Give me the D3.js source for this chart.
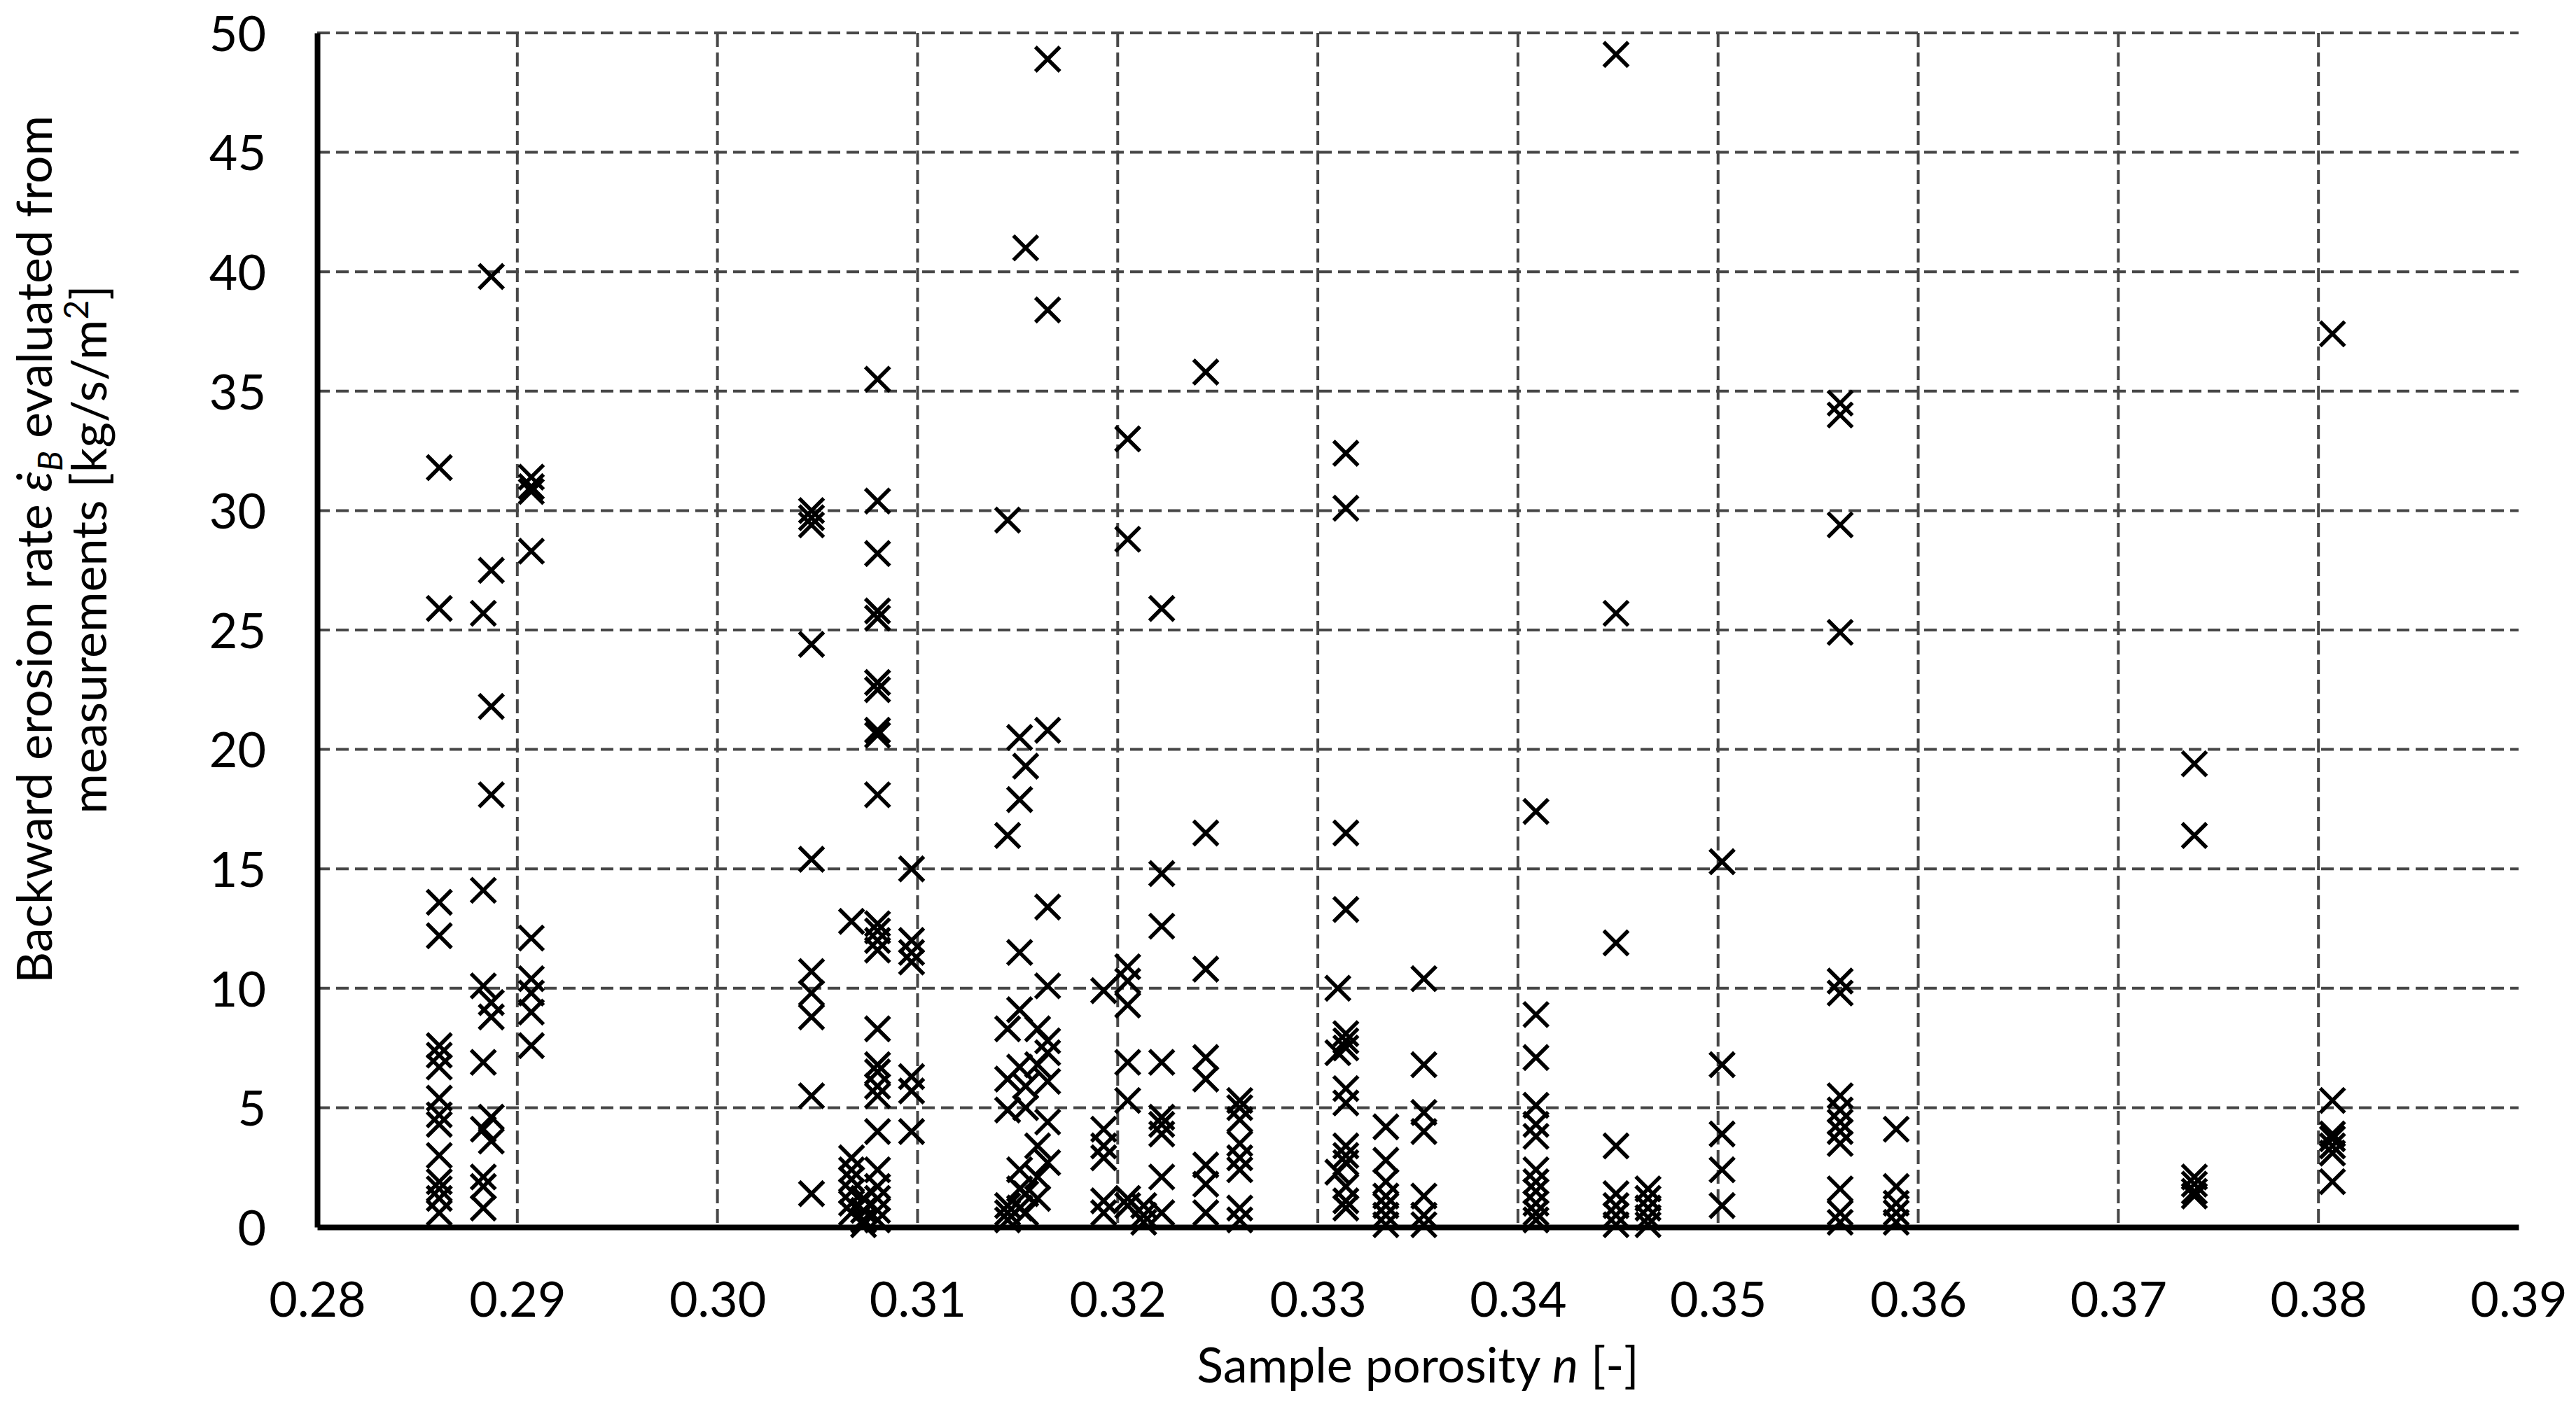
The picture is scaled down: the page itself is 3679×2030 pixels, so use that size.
<!DOCTYPE html>
<html>
<head>
<meta charset="utf-8">
<script src="https://cdn.jsdelivr.net/npm/d3@7"></script>
<style>
  body { margin: 0; background: #fff; }
  svg text { font-family: Lato, "Open Sans", sans-serif; fill: #000; }
</style>
</head>
<body>
<div class="chart"></div>
<script>
// porosity of each tested sample group and the erosion rates measured for it
var porosity = [0.2861, 0.2883, 0.2887, 0.2907, 0.3047, 0.3067, 0.3073, 0.3080, 0.3097,
  0.3145, 0.3151, 0.3154, 0.3160, 0.3165, 0.3193, 0.3205, 0.3213, 0.3222, 0.3244, 0.3261,
  0.3310, 0.3314, 0.3334, 0.3353, 0.3409, 0.3449, 0.3465, 0.3502, 0.3561, 0.3589, 0.3738, 0.3807];

var erosionRate = [
  [31.8, 25.9, 13.6, 12.2, 7.6, 7.2, 6.7, 5.4, 4.7, 4.3, 3.0, 1.9, 1.6, 1.2, 0.6],
  [25.7, 14.1, 10.1, 6.9, 4.1, 2.1, 1.7, 0.8],
  [39.8, 27.5, 21.8, 18.1, 9.4, 8.8, 4.6, 3.6],
  [31.4, 31.0, 30.8, 28.3, 12.1, 10.4, 9.8, 9.0, 7.6],
  [30.0, 29.7, 29.4, 24.4, 15.4, 10.7, 9.8, 8.8, 5.5, 1.4],
  [12.8, 2.9, 2.4, 2.0, 1.5, 1.0, 0.6],
  [1.2, 0.7, 0.3, 0.1],
  [35.5, 30.4, 28.2, 25.8, 25.5, 22.8, 22.5, 20.8, 20.6, 18.1, 12.7, 12.4, 12.0, 11.6, 8.3, 6.8, 6.5, 5.9, 5.5, 4.0, 2.4, 1.7, 1.2, 0.7, 0.3],
  [15.0, 12.0, 11.5, 11.1, 6.3, 5.7, 4.0],
  [29.6, 16.4, 8.3, 6.2, 4.9, 0.9, 0.6, 0.3],
  [20.5, 17.9, 11.5, 9.1, 6.7, 2.4, 1.6, 0.8],
  [41.0, 19.3, 5.9, 5.0, 1.4, 0.6],
  [8.3, 6.8, 3.4, 2.1, 1.2],
  [48.9, 38.4, 20.8, 13.4, 10.1, 7.8, 7.3, 6.1, 4.4, 2.7],
  [9.9, 4.1, 3.4, 2.9, 1.1, 0.6],
  [33.0, 28.8, 10.9, 10.3, 9.3, 6.9, 5.3, 1.2, 0.9],
  [0.9, 0.5, 0.2],
  [25.9, 14.8, 12.6, 6.9, 4.6, 4.3, 3.9, 2.1, 0.6],
  [35.8, 16.5, 10.8, 7.1, 6.2, 2.6, 1.8, 0.6],
  [5.3, 5.0, 4.5, 3.5, 2.9, 2.4, 0.8, 0.3],
  [10.0, 7.3, 2.3],
  [32.4, 30.1, 16.5, 13.3, 8.1, 7.8, 7.5, 5.8, 5.2, 3.4, 3.0, 2.7, 1.7, 1.1, 0.8],
  [4.2, 2.8, 1.9, 1.3, 0.9, 0.5, 0.1],
  [10.4, 6.8, 4.8, 4.0, 1.3, 0.5, 0.1],
  [17.4, 8.9, 7.1, 5.1, 4.3, 3.8, 2.4, 1.9, 1.5, 1.0, 0.6, 0.3],
  [49.1, 25.7, 11.9, 3.4, 1.4, 0.9, 0.5, 0.1],
  [1.6, 1.2, 0.8, 0.4, 0.1],
  [15.3, 6.8, 3.9, 2.4, 0.9],
  [34.5, 34.0, 29.4, 24.9, 10.3, 9.8, 5.5, 4.9, 4.4, 4.0, 3.5, 1.6, 0.6, 0.2],
  [4.1, 1.7, 1.0, 0.6, 0.2],
  [19.4, 16.4, 2.1, 1.8, 1.5, 1.3],
  [37.4, 5.3, 3.9, 3.7, 3.4, 3.1, 1.9]
];

var xTicks = [0.28, 0.29, 0.30, 0.31, 0.32, 0.33, 0.34, 0.35, 0.36, 0.37, 0.38, 0.39];
var yTicks = [0, 5, 10, 15, 20, 25, 30, 35, 40, 45, 50];

var points = [];
for (var i = 0; i < porosity.length; i++) {
  for (var j = 0; j < erosionRate[i].length; j++) {
    points.push({ n: porosity[i], rate: erosionRate[i][j] });
  }
}

var width = 3679,
  height = 2030;
var plotLeft = 453, plotRight = 3597, plotTop = 47, plotBottom = 1753;

var x = d3.scaleLinear().domain([0.28, 0.39]).range([plotLeft, plotRight]);
var y = d3.scaleLinear().domain([0, 50]).range([plotBottom, plotTop]);

var svg = d3.select(".chart")
  .append("svg")
  .attr("width", width)
  .attr("height", height);

// horizontal gridlines
svg.append("g")
  .selectAll("line")
  .data(yTicks.filter(function(d) { return d > 0; }))
  .enter()
  .append("line")
  .attr("x1", plotLeft)
  .attr("x2", plotRight)
  .attr("y1", function(d) { return y(d); })
  .attr("y2", function(d) { return y(d); })
  .attr("stroke", "#474747")
  .attr("stroke-width", 4)
  .attr("stroke-dasharray", "18,9");

// vertical gridlines
svg.append("g")
  .selectAll("line")
  .data(xTicks.filter(function(d) { return d > 0.2805 && d < 0.3895; }))
  .enter()
  .append("line")
  .attr("x1", function(d) { return x(d); })
  .attr("x2", function(d) { return x(d); })
  .attr("y1", plotTop)
  .attr("y2", plotBottom)
  .attr("stroke", "#474747")
  .attr("stroke-width", 4)
  .attr("stroke-dasharray", "20,8");

// axes
var xAxis = d3.axisBottom(x).tickValues(xTicks).tickFormat(d3.format(".2f")).tickSize(0).tickPadding(78);
var yAxis = d3.axisLeft(y).tickValues(yTicks).tickFormat(d3.format("d")).tickSize(0).tickPadding(73);

var gx = svg.append("g").attr("transform", "translate(0," + plotBottom + ")").call(xAxis);
var gy = svg.append("g").attr("transform", "translate(" + plotLeft + ",0)").call(yAxis);

[gx, gy].forEach(function(g) {
  g.select(".domain").attr("stroke", "#000").attr("stroke-width", 8);
  g.selectAll("text").style("font-size", "70px").attr("fill", "#000");
});
gy.selectAll("text").attr("dy", "0.36em");

// crosses
svg.append("g")
  .selectAll("path")
  .data(points)
  .enter()
  .append("path")
  .attr("d", function(d) {
    var cx = x(d.n), cy = y(d.rate), s = 17.5;
    return "M" + (cx - s) + "," + (cy - s) + "L" + (cx + s) + "," + (cy + s) +
      "M" + (cx - s) + "," + (cy + s) + "L" + (cx + s) + "," + (cy - s);
  })
  .attr("stroke", "#000")
  .attr("stroke-width", 5.5)
  .attr("fill", "none");

// x title
var xt = svg.append("text")
  .attr("x", (plotLeft + plotRight) / 2)
  .attr("y", 1975)
  .attr("text-anchor", "middle")
  .style("font-size", "70px");
xt.append("tspan").text("Sample porosity ");
xt.append("tspan").style("font-style", "italic").text("n");
xt.append("tspan").text(" [-]");

// y title, two lines
var yt = svg.append("g").attr("transform", "translate(0,785) rotate(-90)");
var l1 = yt.append("text")
  .attr("x", 0)
  .attr("y", 74)
  .attr("text-anchor", "middle")
  .style("font-size", "70px");
l1.append("tspan").text("Backward erosion rate ");
l1.append("tspan").style("font-style", "italic").text("\u03B5\u0307");
l1.append("tspan").style("font-style", "italic").style("font-size", "48px").attr("dy", 15).text("B");
l1.append("tspan").attr("dy", -15).text(" evaluated from");

var l2 = yt.append("text")
  .attr("x", 0)
  .attr("y", 152)
  .attr("text-anchor", "middle")
  .style("font-size", "70px");
l2.append("tspan").text("measurements  [kg/s/m");
l2.append("tspan").style("font-size", "48px").attr("dy", -26).text("2");
l2.append("tspan").attr("dy", 26).text("]");
</script>
</body>
</html>
